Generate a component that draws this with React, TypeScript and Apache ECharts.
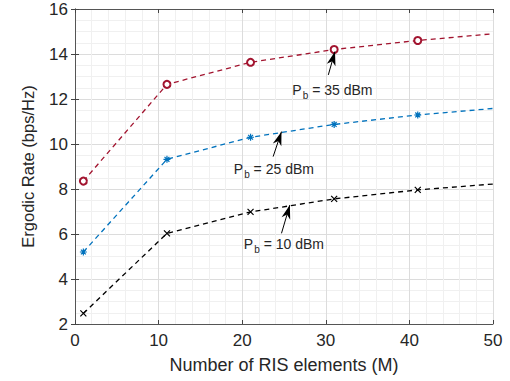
import React, { useEffect, useRef } from "react";
import * as echarts from "echarts";

const M = [1, 11, 21, 31, 41, 50];
const rate35 = [8.35, 12.65, 13.63, 14.2, 14.6, 14.9];
const rate25 = [5.2, 9.32, 10.3, 10.87, 11.29, 11.58];
const rate10 = [2.47, 6.03, 6.98, 7.56, 7.96, 8.22];
const markerShown = [true, true, true, true, true, false];

const xTicks = { min: 0, max: 50, interval: 10 };
const yTicks = { min: 2, max: 16, interval: 2 };

// annotations: label anchor (left, middle), arrow tail -> arrow tip
const annPower = ["35", "25", "10"];
const annLabelPos = [
  [26.0, 12.38],
  [19.0, 8.89],
  [20.2, 5.56],
];
const annArrowTail = [
  [30.3, 13.07],
  [23.7, 9.44],
  [24.7, 6.03],
];
const annArrowTip = [
  [31.1, 14.11],
  [24.7, 10.55],
  [25.7, 7.29],
];

const FONT = "Liberation Sans, Arial, sans-serif";
const TXT = "#262626";

const ASTERISK = "path://M5,0L5,10M0,5L10,5M1.5,1.5L8.5,8.5M8.5,1.5L1.5,8.5";
const CROSS = "path://M0,0L10,10M10,0L0,10";
const ARROW_HEAD = "path://M5,0L10,14L5,10L0,14Z";

function buildData(vals: number[]) {
  return M.map((m, i) => ({
    value: [m, vals[i]],
    symbol: markerShown[i] ? undefined : "none",
  }));
}

function arrow(i: number) {
  return {
    silent: true,
    symbol: ["none", ARROW_HEAD],
    symbolSize: [10, 14],
    lineStyle: { color: "#000", type: "solid", width: 1 },
    itemStyle: { color: "#000" },
    label: { show: false },
    emphasis: { disabled: true },
    animation: false,
    data: [
      [
        { coord: annArrowTail[i], symbol: "none" },
        {
          coord: annArrowTip[i],
          symbol: ARROW_HEAD,
          symbolSize: [9, 14],
          symbolOffset: [0, 7],
          itemStyle: { color: "#000" },
        },
      ],
    ],
  };
}

export default function App() {
  const ref = useRef<HTMLDivElement>(null);
  useEffect(() => {
    if (!ref.current) return;
    const chart = echarts.init(ref.current, null, { renderer: "svg" });
    const gridLine = { show: true, lineStyle: { color: "#dcdcdc", width: 1 } };
    const minorLine = { show: true, lineStyle: { color: "#f0f0f0", width: 1 } };
    const axisLine = { show: true, lineStyle: { color: "#555", width: 1 } };
    const tick = { show: true, inside: true, length: 4, lineStyle: { color: "#444" } };
    const series: any[] = [
      {
        type: "line",
        data: buildData(rate35),
        symbol: "emptyCircle",
        symbolSize: 7,
        showSymbol: true,
        lineStyle: { color: "#A2142F", type: [5, 4], width: 1.3 },
        itemStyle: { color: "#A2142F", borderColor: "#A2142F", borderWidth: 1.1 },
        markLine: arrow(0),
        z: 3,
      },
      {
        type: "line",
        data: buildData(rate25),
        symbol: ASTERISK,
        symbolSize: 7,
        lineStyle: { color: "#0072BD", type: [5, 4], width: 1.3 },
        itemStyle: { color: "#0072BD", borderColor: "#0072BD", borderWidth: 1.2 },
        markLine: arrow(1),
        z: 3,
      },
      {
        type: "line",
        data: buildData(rate10),
        symbol: CROSS,
        symbolSize: 6,
        lineStyle: { color: "#000000", type: [5, 4], width: 1.3 },
        itemStyle: { color: "#000000", borderColor: "#000000", borderWidth: 1.2 },
        markLine: arrow(2),
        z: 3,
      },
    ];
    chart.setOption({
      animation: false,
      grid: { left: 75, right: 17, top: 9, bottom: 57, containLabel: false },
      xAxis: [
        {
          type: "value",
          ...xTicks,
          name: "Number of RIS elements (M)",
          nameLocation: "middle",
          nameGap: 32,
          nameTextStyle: { fontFamily: FONT, fontSize: 18, color: TXT },
          axisLine,
          axisTick: tick,
          axisLabel: { fontFamily: FONT, fontSize: 17, color: TXT, margin: 8 },
          splitLine: gridLine,
          minorTick: { show: false, splitNumber: 5 },
          minorSplitLine: minorLine,
        },
        {
          type: "value",
          position: "top",
          ...xTicks,
          axisLine,
          axisTick: tick,
          axisLabel: { show: false },
          splitLine: { show: false },
        },
      ],
      yAxis: [
        {
          type: "value",
          ...yTicks,
          name: "Ergodic Rate (bps/Hz)",
          nameLocation: "middle",
          nameGap: 39,
          nameTextStyle: { fontFamily: FONT, fontSize: 16.5, color: TXT },
          axisLine,
          axisTick: tick,
          axisLabel: { fontFamily: FONT, fontSize: 17, color: TXT, margin: 7 },
          splitLine: gridLine,
          minorTick: { show: false, splitNumber: 4 },
          minorSplitLine: minorLine,
        },
        {
          type: "value",
          position: "right",
          ...yTicks,
          axisLine,
          axisTick: tick,
          axisLabel: { show: false },
          splitLine: { show: false },
        },
      ],
      series,
    });
    const graphic = annPower.map((p, i) => {
      const [px, py] = chart.convertToPixel({ gridIndex: 0 }, annLabelPos[i]) as number[];
      return {
        type: "text",
        x: px,
        y: py,
        z: 10,
        style: {
          text: `{a|P}{b|b}{a| = ${p} dBm}`,
          verticalAlign: "middle",
          align: "left",
          fill: TXT,
          rich: {
            a: { fontFamily: FONT, fontSize: 14, fill: TXT, lineHeight: 18 },
            b: { fontFamily: FONT, fontSize: 10, fill: TXT, padding: [11, 0, 0, 1], lineHeight: 18 },
          },
        },
      };
    });
    chart.setOption({ graphic });
    return () => chart.dispose();
  }, []);
  return (
    <div
      ref={ref}
      style={{ position: "fixed", left: 0, top: 0, width: 510, height: 381, background: "#fff" }}
    />
  );
}
